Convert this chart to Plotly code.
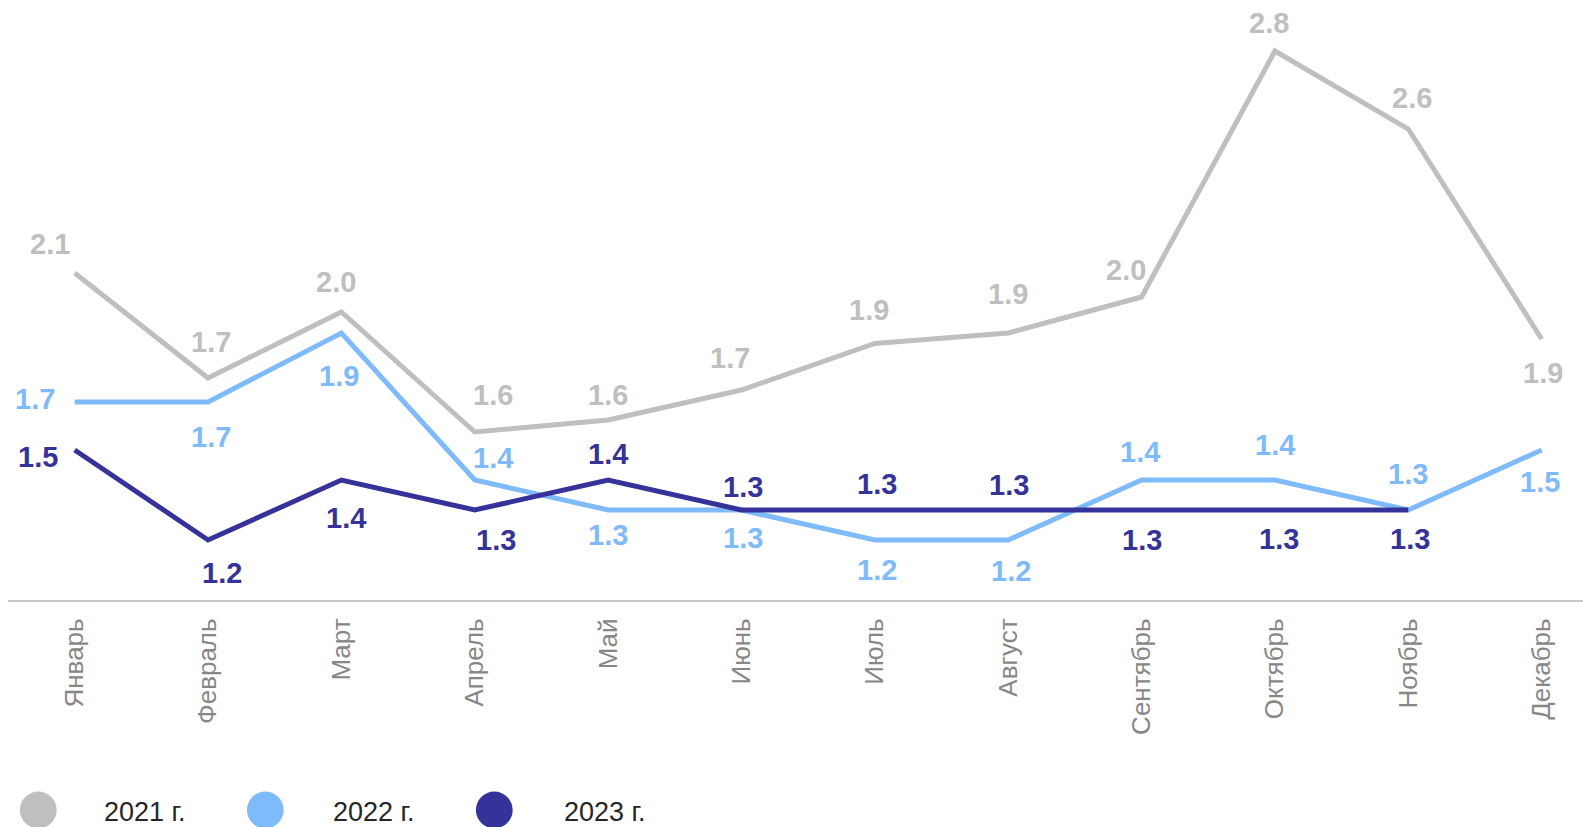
import plotly.graph_objects as go

# ---------------- data ----------------
months = ["Январь", "Февраль", "Март", "Апрель", "Май", "Июнь",
          "Июль", "Август", "Сентябрь", "Октябрь", "Ноябрь", "Декабрь"]
series_names = ["2021 г.", "2022 г.", "2023 г."]
v2021 = [2.09, 1.74, 1.96, 1.56, 1.60, 1.70, 1.855, 1.89, 2.01, 2.83, 2.57, 1.87]
v2022 = [1.66, 1.66, 1.89, 1.40, 1.30, 1.30, 1.20, 1.20, 1.40, 1.40, 1.30, 1.50]
v2023 = [1.50, 1.20, 1.40, 1.30, 1.40, 1.30, 1.30, 1.30, 1.30, 1.30, 1.30, None]

# ---------------- style ----------------
colors = ["#BFBFBF", "#7FBBFA", "#35339A"]
FONT = "Arial, 'Liberation Sans', sans-serif"
W, H = 1583, 827
ML, MR, MT, MB = 8, 0, 0, 227

# data-label pixel offsets (dx right, dy down) relative to each point
label_offsets = [
    [(-25, -29), (3, -36), (-5, -30), (18, -37), (0, -25), (-11, -32),
     (-6, -34), (0, -39), (-16, -27), (-6, -28), (4, -31), (1, 34)],
    [(-40, -3), (3, 35), (-2, 43), (18, -22), (0, 25), (2, 28),
     (2, 30), (3, 31), (-2, -28), (0, -35), (0, -36), (-2, 32)],
    [(-37, 7), (14, 33), (5, 38), (21, 30), (0, -26), (2, -23),
     (2, -26), (1, -25), (0, 30), (4, 29), (2, 29), (0, 0)],
]

fig = go.Figure()
all_values = [v2021, v2022, v2023]
annotations = []
for name, vals, col, offs in zip(series_names, all_values, colors, label_offsets):
    fig.add_trace(go.Scatter(
        x=months, y=vals, name=name, mode="lines",
        line=dict(color=col, width=5),
        showlegend=False, hoverinfo="skip",
    ))
    for m, v, (dx, dy) in zip(months, vals, offs):
        if v is None:
            continue
        annotations.append(dict(
            x=m, y=v, xref="x", yref="y", text=f"{v:.1f}",
            showarrow=False, xanchor="center", yanchor="middle",
            xshift=dx, yshift=-dy,
            font=dict(family=FONT, size=29, color=col, weight="bold"),
        ))

# custom legend (large circles + text)
plot_w = W - ML - MR
plot_h = H - MT - MB
def px_x(px):
    return (px - ML) / plot_w
def px_y(py):
    return (MT + plot_h - py) / plot_h

legend_circle_x = [38.3, 265.3, 494.3]
legend_text_x = [102, 331, 562]
legend_y = 810
shapes = []
for name, col, cx, tx in zip(series_names, colors, legend_circle_x, legend_text_x):
    shapes.append(dict(
        type="circle", xref="paper", yref="paper",
        xsizemode="pixel", ysizemode="pixel",
        xanchor=px_x(cx), yanchor=px_y(legend_y),
        x0=-18.4, x1=18.4, y0=-18.4, y1=18.4,
        fillcolor=col, line=dict(width=0),
    ))
    annotations.append(dict(
        x=px_x(tx), y=px_y(legend_y + 2), xref="paper", yref="paper",
        text=name, showarrow=False, xanchor="left", yanchor="middle",
        font=dict(family=FONT, size=27, color="#262626"),
    ))

fig.update_layout(
    width=W, height=H,
    margin=dict(l=ML, r=MR, t=MT, b=MB, pad=0),
    paper_bgcolor="white", plot_bgcolor="white",
    showlegend=False,
    annotations=annotations,
    shapes=shapes,
    font=dict(family=FONT),
)
fig.update_xaxes(
    type="category", range=[-0.5, 11.31],
    showline=True, linecolor="#C8C8C8", linewidth=2,
    showgrid=False, zeroline=False, ticks="",
    tickangle=-90, ticklabelstandoff=6,
    tickfont=dict(family=FONT, size=26, color="#878787"),
)
fig.update_yaxes(range=[1.0, 3.0], visible=False, showgrid=False, zeroline=False)

fig.write_html(
    "out.html",
    config={"displayModeBar": False},
    post_script="document.body.style.margin='0';document.body.style.overflow='hidden';",
)
